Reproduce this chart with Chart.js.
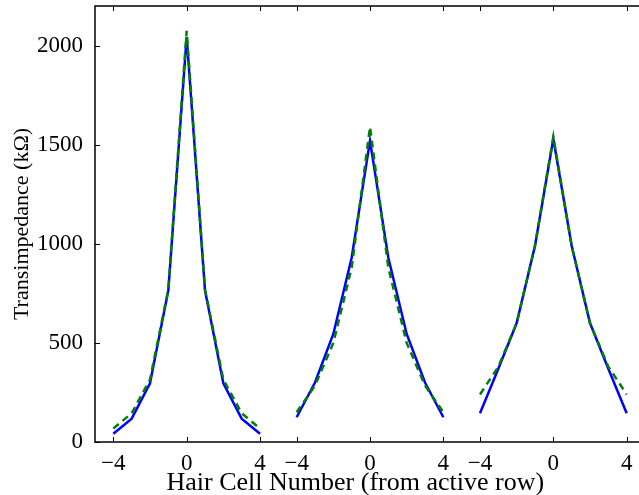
<!DOCTYPE html>
<html>
<head>
<meta charset="utf-8">
<script src="https://cdn.jsdelivr.net/npm/chart.js@4"></script>
<style>
  html, body { margin: 0; padding: 0; background: #fff; overflow: hidden; }
  #wrap { width: 650px; height: 495px; }
</style>
</head>
<body>
<div id="wrap"><canvas id="chart" width="650" height="495"></canvas></div>
<script>
// hair cell offsets within each group, and where each group sits on the x axis
const offsets = [-4, -3, -2, -1, 0, 1, 2, 3, 4];
const groupCenters = [0, 10, 20];

// transimpedance (kOhm), solid blue
const blueA = [42, 118, 296, 765, 2045, 765, 296, 118, 42];
const blueB = [125, 300, 545, 930, 1520, 930, 545, 300, 125];
const blueC = [145, 370, 600, 990, 1530, 990, 600, 370, 145];

// transimpedance (kOhm), dashed green
const greenA = [68, 145, 315, 770, 2075, 770, 315, 145, 68];
const greenB = [150, 285, 500, 880, 1590, 880, 500, 285, 150];
const greenC = [240, 380, 600, 990, 1540, 990, 600, 380, 240];

const xTicks = [-4, 0, 4, 6, 10, 14, 16, 20, 24];
const yTicks = [0, 500, 1000, 1500, 2000];

const xTitle = "Hair Cell Number (from active row)";

// join the three groups into one series, broken by a null between groups
function toPoints(groups) {
  let pts = [];
  groups.forEach((vals, g) => {
    offsets.forEach((o, i) => pts.push({ x: groupCenters[g] + o, y: vals[i] }));
    if (g < groups.length - 1) pts.push({ x: groupCenters[g] + 5, y: null });
  });
  return pts;
}

function tickLabel(v) {
  const n = v - 10 * Math.round(v / 10);
  return n < 0 ? "\u2212" + Math.abs(n) : String(n);
}

const font = "'Liberation Serif', 'DejaVu Serif', serif";

// matplotlib-like frame with inward ticks, plus the x title
// (centred on the uncropped figure, which sits a bit left of the chart area centre)
const framePlugin = {
  id: "frame",
  afterDraw(chart) {
    const { ctx, chartArea: a, scales } = chart;
    ctx.save();
    ctx.strokeStyle = "#000";
    ctx.lineWidth = 1;
    ctx.beginPath();
    xTicks.forEach(v => {
      const px = Math.round(scales.x.getPixelForValue(v)) + 0.5;
      ctx.moveTo(px, a.bottom); ctx.lineTo(px, a.bottom - 5);
      ctx.moveTo(px, a.top); ctx.lineTo(px, a.top + 5);
    });
    yTicks.forEach(v => {
      const py = Math.round(scales.y.getPixelForValue(v)) + 0.5;
      ctx.moveTo(a.left, py); ctx.lineTo(a.left + 5, py);
      ctx.moveTo(a.right, py); ctx.lineTo(a.right - 5, py);
    });
    ctx.stroke();
    ctx.lineWidth = 1.5;
    ctx.strokeRect(a.left, a.top, a.right - a.left, a.bottom - a.top);

    ctx.fillStyle = "#000";
    ctx.font = "26px " + font;
    ctx.textAlign = "center";
    ctx.textBaseline = "alphabetic";
    ctx.fillText(xTitle, scales.x.getPixelForValue(9.2), 490);
    ctx.restore();
  }
};

new Chart(document.getElementById("chart").getContext("2d"), {
  type: "line",
  data: {
    datasets: [
      {
        label: "dashed",
        data: toPoints([greenA, greenB, greenC]),
        borderColor: "#008000",
        borderWidth: 2.5,
        borderDash: [7, 5],
        pointRadius: 0,
        tension: 0,
        spanGaps: false
      },
      {
        label: "solid",
        data: toPoints([blueA, blueB, blueC]),
        borderColor: "#0000ff",
        borderWidth: 2.5,
        pointRadius: 0,
        tension: 0,
        spanGaps: false
      }
    ]
  },
  options: {
    responsive: false,
    animation: false,
    layout: { padding: { top: 6, right: 5, left: 0, bottom: 0 } },
    plugins: { legend: { display: false }, tooltip: { enabled: false } },
    scales: {
      x: {
        type: "linear",
        min: -5,
        max: 25,
        afterBuildTicks: axis => { axis.ticks = xTicks.map(v => ({ value: v })); },
        afterFit: axis => {
          axis.height = 53;
          axis.paddingLeft = 0;
          axis.paddingRight = 0;
        },
        grid: { display: false, drawTicks: false },
        border: { display: false },
        ticks: {
          autoSkip: false,
          maxRotation: 0,
          padding: 8,
          color: "#000",
          font: { family: font, size: 23 },
          callback: v => tickLabel(v)
        },
        title: { display: false }
      },
      y: {
        min: 0,
        max: 2200,
        afterBuildTicks: axis => { axis.ticks = yTicks.map(v => ({ value: v })); },
        afterFit: axis => {
          axis.width = 95;
          axis.paddingTop = 0;
          axis.paddingBottom = 0;
        },
        grid: { display: false, drawTicks: false },
        border: { display: false },
        ticks: {
          padding: 12,
          color: "#000",
          font: { family: font, size: 23 },
          callback: v => String(v)
        },
        title: {
          display: true,
          text: "Transimpedance (k\u03A9)",
          color: "#000",
          font: { family: font, size: 22 },
          padding: { top: 9, bottom: 0 }
        }
      }
    }
  },
  plugins: [framePlugin]
});
</script>
</body>
</html>
